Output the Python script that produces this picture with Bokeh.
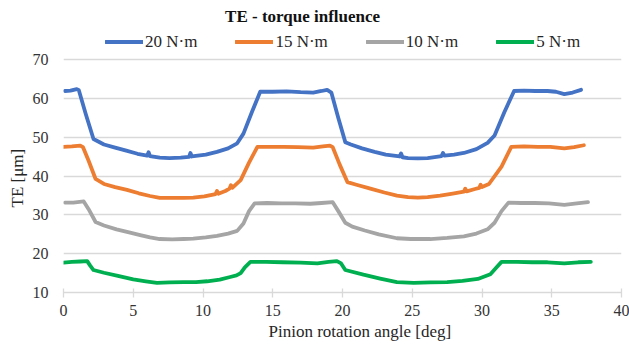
from bokeh.plotting import figure
from bokeh.models import Range1d, FixedTicker, Legend, LegendItem, Title, Label
from bokeh.embed import file_html
from bokeh.resources import INLINE

# ---- data ----
x_20 = [0.1, 0.5, 0.95, 1.1, 1.6, 2.15, 2.9, 3.7, 4.5, 5.3, 6.0, 6.1, 6.2, 6.9, 7.6, 8.4, 9.0, 9.1, 9.2,
        10.2, 11.0, 11.8, 12.45, 12.9, 13.5, 14.1, 15.0, 16.0, 17.0, 17.9, 18.5, 18.9, 19.2, 19.7, 20.2,
        20.6, 21.4, 22.3, 23.1, 24.1, 24.2, 24.3, 24.7, 25.4, 26.1, 27.1, 27.2, 27.3, 28.0, 28.7, 29.6,
        30.4, 30.9, 31.6, 32.3, 33.0, 33.8, 34.7, 35.3, 35.9, 36.5, 37.1]
y_20 = [62.0, 62.1, 62.5, 62.2, 56.0, 49.6, 48.2, 47.4, 46.6, 45.8, 45.3, 46.2, 45.2, 44.8, 44.7, 44.8, 45.0, 46.0, 45.1,
        45.6, 46.3, 47.2, 48.5, 51.0, 56.5, 61.8, 61.8, 61.9, 61.7, 61.6, 62.0, 62.3, 61.6, 55.0, 48.8,
        48.2, 47.2, 46.3, 45.6, 45.1, 45.9, 44.9, 44.7, 44.6, 44.7, 45.2, 46.0, 45.3, 45.6, 46.0, 47.0,
        48.6, 50.5, 56.5, 62.0, 62.1, 62.0, 62.0, 61.8, 61.2, 61.6, 62.3]

x_15 = [0.0, 0.6, 1.2, 1.4, 1.8, 2.3, 2.9, 3.7, 4.55, 5.4, 6.2, 6.9, 7.8, 8.6, 9.3, 10.1, 10.9, 11.0, 11.1,
        11.6, 11.9, 12.0, 12.1, 12.7, 13.3, 13.9, 14.8, 15.8, 16.8, 17.9, 18.6, 19.1, 19.3, 19.8, 20.35,
        21.0, 22.0, 23.0, 23.9, 24.7, 25.4, 26.1, 27.0, 27.9, 28.7, 28.8, 28.9, 29.5, 29.8, 29.9, 30.0,
        30.5, 31.4, 32.1, 33.0, 34.0, 34.9, 35.9, 36.6, 37.3]
y_15 = [47.6, 47.7, 47.9, 47.5, 44.0, 39.3, 38.0, 37.2, 36.5, 35.6, 34.9, 34.4, 34.4, 34.4, 34.5, 34.8, 35.4, 36.2, 35.5,
        36.2, 36.8, 37.7, 37.0, 39.0, 43.5, 47.6, 47.6, 47.6, 47.5, 47.4, 47.7, 47.9, 47.5, 43.0, 38.5,
        37.8, 36.8, 35.8, 35.0, 34.6, 34.5, 34.6, 35.0, 35.5, 36.0, 36.8, 36.1, 36.7, 37.0, 37.8, 37.2,
        38.0, 42.5, 47.6, 47.7, 47.6, 47.6, 47.2, 47.5, 48.0]

x_10 = [0.1, 0.7, 1.45, 1.8, 2.3, 2.9, 3.8, 4.7, 5.5, 6.2, 6.9, 7.8, 8.6, 9.3, 10.2, 11.0, 11.8, 12.45,
        12.9, 13.3, 13.7, 14.6, 15.6, 16.6, 17.7, 18.5, 19.3, 19.7, 20.2, 20.7, 21.6, 22.6, 23.9, 24.9,
        26.3, 27.5, 28.7, 29.6, 30.4, 30.9, 31.4, 31.9, 32.8, 33.8, 34.8, 35.9, 36.8, 37.6]
y_10 = [33.2, 33.2, 33.5, 31.5, 28.2, 27.3, 26.3, 25.5, 24.8, 24.2, 23.8, 23.7, 23.8, 23.9, 24.2, 24.6, 25.2, 25.9,
        27.8, 31.0, 33.0, 33.1, 33.0, 33.0, 32.9, 33.1, 33.3, 31.0, 28.0, 27.0, 26.0, 25.0, 24.0, 23.8,
        23.8, 24.1, 24.5, 25.2, 26.3, 28.0, 31.0, 33.2, 33.1, 33.1, 33.0, 32.6, 33.0, 33.3]

x_5 = [0.0, 0.6, 1.2, 1.7, 1.9, 2.15, 2.9, 3.9, 5.0, 5.9, 6.7, 7.6, 8.6, 9.5, 10.3, 11.2, 11.95, 12.4,
       12.7, 13.0, 13.4, 14.5, 15.7, 17.0, 18.2, 19.0, 19.6, 19.9, 20.2, 21.5, 22.7, 23.9, 25.1, 26.3,
       27.5, 28.6, 29.7, 30.6, 31.0, 31.4, 32.5, 33.6, 34.7, 35.9, 36.9, 37.8]
y_5 = [17.7, 17.9, 18.0, 18.1, 17.0, 15.8, 15.1, 14.3, 13.4, 12.9, 12.5, 12.6, 12.7, 12.7, 12.9, 13.3, 14.0, 14.4,
       15.0, 16.5, 17.9, 17.9, 17.8, 17.7, 17.5, 17.9, 18.1, 17.5, 15.8, 14.6, 13.6, 12.7, 12.5, 12.6,
       12.7, 13.0, 13.5, 14.7, 16.3, 17.9, 17.9, 17.8, 17.8, 17.5, 17.8, 17.9]

series_labels = ["20 N·m", "15 N·m", "10 N·m", "5 N·m"]
series_colors = ["#4472C4", "#ED7D31", "#A5A5A5", "#00B050"]
x_ticks = [0, 5, 10, 15, 20, 25, 30, 35, 40]
y_ticks = [10, 20, 30, 40, 50, 60, 70]

title_text = "TE - torque influence"
x_title = "Pinion rotation angle [deg]"
y_title = "TE [\u03bcm]"

FONT = "Liberation Serif"

# the frame reaches up to the top of the canvas so that the title and legend
# (drawn inside it, above the 70 gridline) are not clipped
p = figure(width=629, height=344, output_backend="svg", toolbar_location=None,
           x_range=Range1d(0, 40), y_range=Range1d(10, 85.35),
           min_border_left=63, min_border_right=8, min_border_top=0, min_border_bottom=52)
p.outline_line_color = None
p.background_fill_color = "white"
p.border_fill_color = "white"

p.xgrid.visible = False
p.ygrid.grid_line_color = "#D9D9D9"
p.ygrid.grid_line_width = 1.3
p.ygrid.ticker = FixedTicker(ticks=y_ticks)

p.xaxis.ticker = FixedTicker(ticks=x_ticks)
p.yaxis.ticker = FixedTicker(ticks=y_ticks)

p.xaxis.axis_line_color = "#D9D9D9"
p.xaxis.axis_line_width = 1.3
p.xaxis.major_tick_line_color = "#D9D9D9"
p.xaxis.major_tick_line_width = 1.3
p.xaxis.major_tick_in = 4
p.xaxis.major_tick_out = 5
p.xaxis.minor_tick_line_color = None
p.xaxis.major_label_standoff = 7

p.yaxis.axis_line_color = None
p.yaxis.major_tick_line_color = None
p.yaxis.major_tick_in = 0
p.yaxis.major_tick_out = 0
p.yaxis.minor_tick_line_color = None
p.yaxis.major_label_standoff = 15

for ax in (p.xaxis[0], p.yaxis[0]):
    ax.major_label_text_font = FONT
    ax.major_label_text_font_size = "16px"
    ax.major_label_text_color = "#333333"

xs = [x_20, x_15, x_10, x_5]
ys = [y_20, y_15, y_10, y_5]
items = []
for xv, yv, lab, col in zip(xs, ys, series_labels, series_colors):
    r = p.line(xv, yv, line_color=col, line_width=3.8, line_join="round", line_cap="round")
    items.append(LegendItem(label=lab, renderers=[r]))

legend = Legend(items=items, orientation="horizontal", location=(42, 240.5),
                glyph_width=38, glyph_height=17, label_height=17, label_standoff=2,
                spacing=38, padding=0, margin=0,
                border_line_color=None, background_fill_alpha=0,
                label_text_font=FONT, label_text_font_size="17px",
                label_text_color="#262626")
p.add_layout(legend, "center")

p.add_layout(Label(x=17.14, y=81.1, text=title_text, text_font=FONT, text_font_size="17px",
                   text_font_style="bold", text_color="#111111",
                   text_align="center", text_baseline="middle"))

p.add_layout(Title(text=y_title, align="left", offset=85, standoff=6,
                   text_font=FONT, text_font_size="17px", text_font_style="normal",
                   text_color="#262626"), "left")

p.add_layout(Title(text=x_title, align="left", offset=205, standoff=3,
                   text_font=FONT, text_font_size="17px", text_font_style="normal",
                   text_color="#262626"), "below")

open("out.html", "w").write(file_html(p, INLINE))
